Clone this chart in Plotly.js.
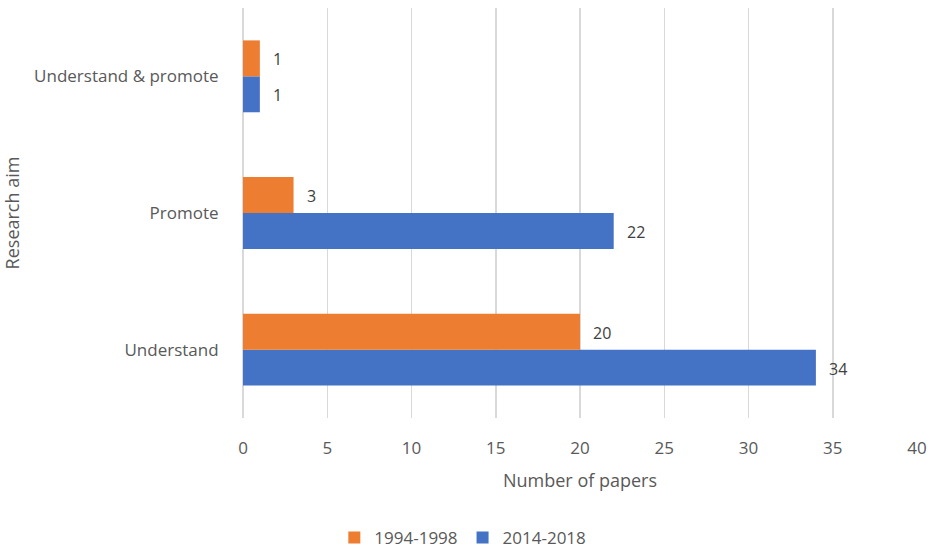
<!DOCTYPE html>
<html>
<head>
<meta charset="utf-8">
<script src="https://cdn.plot.ly/plotly-3.0.1.min.js"></script>
<style>
  html, body { margin: 0; padding: 0; background: #fff; }
  #chart { width: 935px; height: 553px; }
</style>
</head>
<body>
<div id="chart"></div>
<script>
// Research aims, listed bottom to top
const aims = ['Understand', 'Promote', 'Understand & promote'];
const papers1994 = [20, 3, 1];   // 1994-1998
const papers2014 = [34, 22, 1];  // 2014-2018
const seriesNames = ['1994-1998', '2014-2018'];
const xTicks = [0, 5, 10, 15, 20, 25, 30, 35, 40];

const ORANGE = '#ED7D31';
const BLUE = '#4472C4';
const GREY = '#595959';
const FONT = '"Open Sans", Lato, sans-serif';

// Blue trace first so it sits below the orange bar within each group
const traces = [
  {
    type: 'bar', orientation: 'h', name: seriesNames[1],
    y: aims, x: papers2014, marker: { color: BLUE },
    legendrank: 2, hoverinfo: 'x+name'
  },
  {
    type: 'bar', orientation: 'h', name: seriesNames[0],
    y: aims, x: papers1994, marker: { color: ORANGE },
    legendrank: 1, hoverinfo: 'x+name'
  }
];

// Value labels beside each bar end
const annotations = [];
function addLabels(values, shift) {
  values.forEach((v, i) => {
    annotations.push({
      x: v, y: aims[i], xref: 'x', yref: 'y',
      text: String(v), showarrow: false,
      xanchor: 'left', yanchor: 'middle',
      xshift: 11, yshift: shift,
      font: { family: FONT, size: 16, color: '#404040' }
    });
  });
}
addLabels(papers1994, 17);
addLabels(papers2014, -19);

const layout = {
  width: 935, height: 553,
  margin: { l: 243, r: 18, t: 8, b: 135 },
  paper_bgcolor: '#ffffff', plot_bgcolor: '#ffffff',
  barmode: 'group', bargap: 0.474, bargroupgap: 0,
  font: { family: FONT, size: 16, color: GREY },
  showlegend: true,
  legend: {
    orientation: 'h', x: 0.495, xanchor: 'center', xref: 'container',
    y: 0.027, yanchor: 'middle', yref: 'container',
    font: { family: FONT, size: 17, color: GREY },
    itemwidth: 30, tracegroupgap: 0
  },
  xaxis: {
    range: [0, 40], tickvals: xTicks, ticktext: xTicks.map(String),
    showgrid: true, gridcolor: '#d9d9d9', gridwidth: 1.5,
    zeroline: true, zerolinecolor: '#d9d9d9', zerolinewidth: 1.5,
    showline: false, automargin: false,
    ticks: 'outside', ticklen: 15, tickcolor: 'rgba(0,0,0,0)',
    tickfont: { family: FONT, size: 17, color: GREY },
    title: { text: 'Number of papers', standoff: 15,
             font: { family: FONT, size: 18, color: GREY } },
    fixedrange: true
  },
  yaxis: {
    type: 'category', categoryorder: 'array', categoryarray: aims,
    showgrid: false, zeroline: false, showline: false, automargin: false,
    ticks: 'outside', ticklen: 20, tickcolor: 'rgba(0,0,0,0)',
    tickfont: { family: FONT, size: 17, color: GREY },
    title: { text: 'Research aim', standoff: 12,
             font: { family: FONT, size: 18, color: GREY } },
    fixedrange: true
  },
  annotations: annotations
};

Plotly.newPlot('chart', traces, layout, { displayModeBar: false, staticPlot: true });
</script>
</body>
</html>
